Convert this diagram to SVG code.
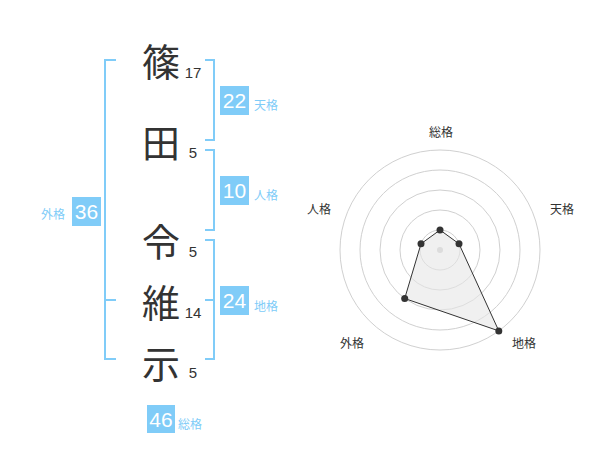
<svg xmlns="http://www.w3.org/2000/svg" width="600" height="470" viewBox="0 0 600 470">
<style>
.kanji{font-family:"Noto Sans CJK JP","Noto Sans CJK SC",sans-serif;font-size:38px;fill:#333;text-anchor:middle;dominant-baseline:central}
.stroke{font-family:"Liberation Sans",Arial,sans-serif;font-size:15px;fill:#333;text-anchor:middle}
.box{fill:#80ccf8}
.boxnum{font-family:"Liberation Sans",Arial,sans-serif;font-size:21px;fill:#fff;text-anchor:middle}
.lbl{font-family:"Noto Sans CJK JP",sans-serif;font-size:12px;fill:#80ccf8;dominant-baseline:central}
.br{fill:none;stroke:#80ccf8;stroke-width:2}
.ring{fill:none;stroke:#d0d0d0;stroke-width:1}
.axis{font-family:"Noto Sans CJK JP",sans-serif;font-size:12px;fill:#333;text-anchor:middle;dominant-baseline:central}
.dot{fill:#333}
</style>
<rect width="600" height="470" fill="#fff"/>
<g id="connectors">
<path class="br" d="M116,60 H105 V359 H116 M105,300 H116"/>
<path class="br" d="M205,60 H214 V140 H205"/>
<path class="br" d="M205,150 H214 V230 H205"/>
<path class="br" d="M205,240 H214 V359 H205 M205,300 H214"/>
</g>
<g id="char1"><text class="kanji" x="161" y="59">篠</text><text class="stroke" x="193" y="78">17</text></g>
<g id="char2"><text class="kanji" x="161" y="140">田</text><text class="stroke" x="193" y="158">5</text></g>
<g id="char3"><text class="kanji" x="161" y="239">令</text><text class="stroke" x="193" y="257">5</text></g>
<g id="char4"><text class="kanji" x="161" y="300">維</text><text class="stroke" x="193" y="318">14</text></g>
<g id="char5"><text class="kanji" x="161" y="361">示</text><text class="stroke" x="193" y="378">5</text></g>
<g id="tenkaku"><rect class="box" x="220" y="86" width="29" height="29"/><text class="boxnum" x="234.5" y="108">22</text><text class="lbl" x="254" y="104">天格</text></g>
<g id="jinkaku"><rect class="box" x="220" y="176" width="29" height="29"/><text class="boxnum" x="234.5" y="198">10</text><text class="lbl" x="254" y="194">人格</text></g>
<g id="chikaku"><rect class="box" x="220" y="286" width="29" height="29"/><text class="boxnum" x="234.5" y="308">24</text><text class="lbl" x="254" y="305">地格</text></g>
<g id="gaikaku"><rect class="box" x="72" y="197" width="29" height="29"/><text class="boxnum" x="86.5" y="219">36</text><text class="lbl" x="41" y="213">外格</text></g>
<g id="soukaku"><rect class="box" x="147" y="405" width="28" height="28"/><text class="boxnum" x="161" y="426.5">46</text><text class="lbl" x="178" y="423">総格</text></g>
<g id="radar">
<circle class="ring" cx="440" cy="250" r="20"/>
<circle class="ring" cx="440" cy="250" r="40"/>
<circle class="ring" cx="440" cy="250" r="60"/>
<circle class="ring" cx="440" cy="250" r="80"/>
<circle class="ring" cx="440" cy="250" r="100"/>
<circle cx="440" cy="250" r="3" fill="#ccc"/>
<polygon points="440,230 459,243.8 498.8,330.9 404.7,298.5 421,243.8" fill="#e6e6e6" fill-opacity="0.6" stroke="#333" stroke-width="1"/>
<circle class="dot" cx="440" cy="230" r="3.5"/>
<circle class="dot" cx="459" cy="243.8" r="3.5"/>
<circle class="dot" cx="498.8" cy="330.9" r="3.5"/>
<circle class="dot" cx="404.7" cy="298.5" r="3.5"/>
<circle class="dot" cx="421" cy="243.8" r="3.5"/>
<text class="axis" x="441" y="131">総格</text>
<text class="axis" x="562" y="208">天格</text>
<text class="axis" x="524" y="342">地格</text>
<text class="axis" x="352" y="342">外格</text>
<text class="axis" x="319" y="208">人格</text>
</g>
</svg>
